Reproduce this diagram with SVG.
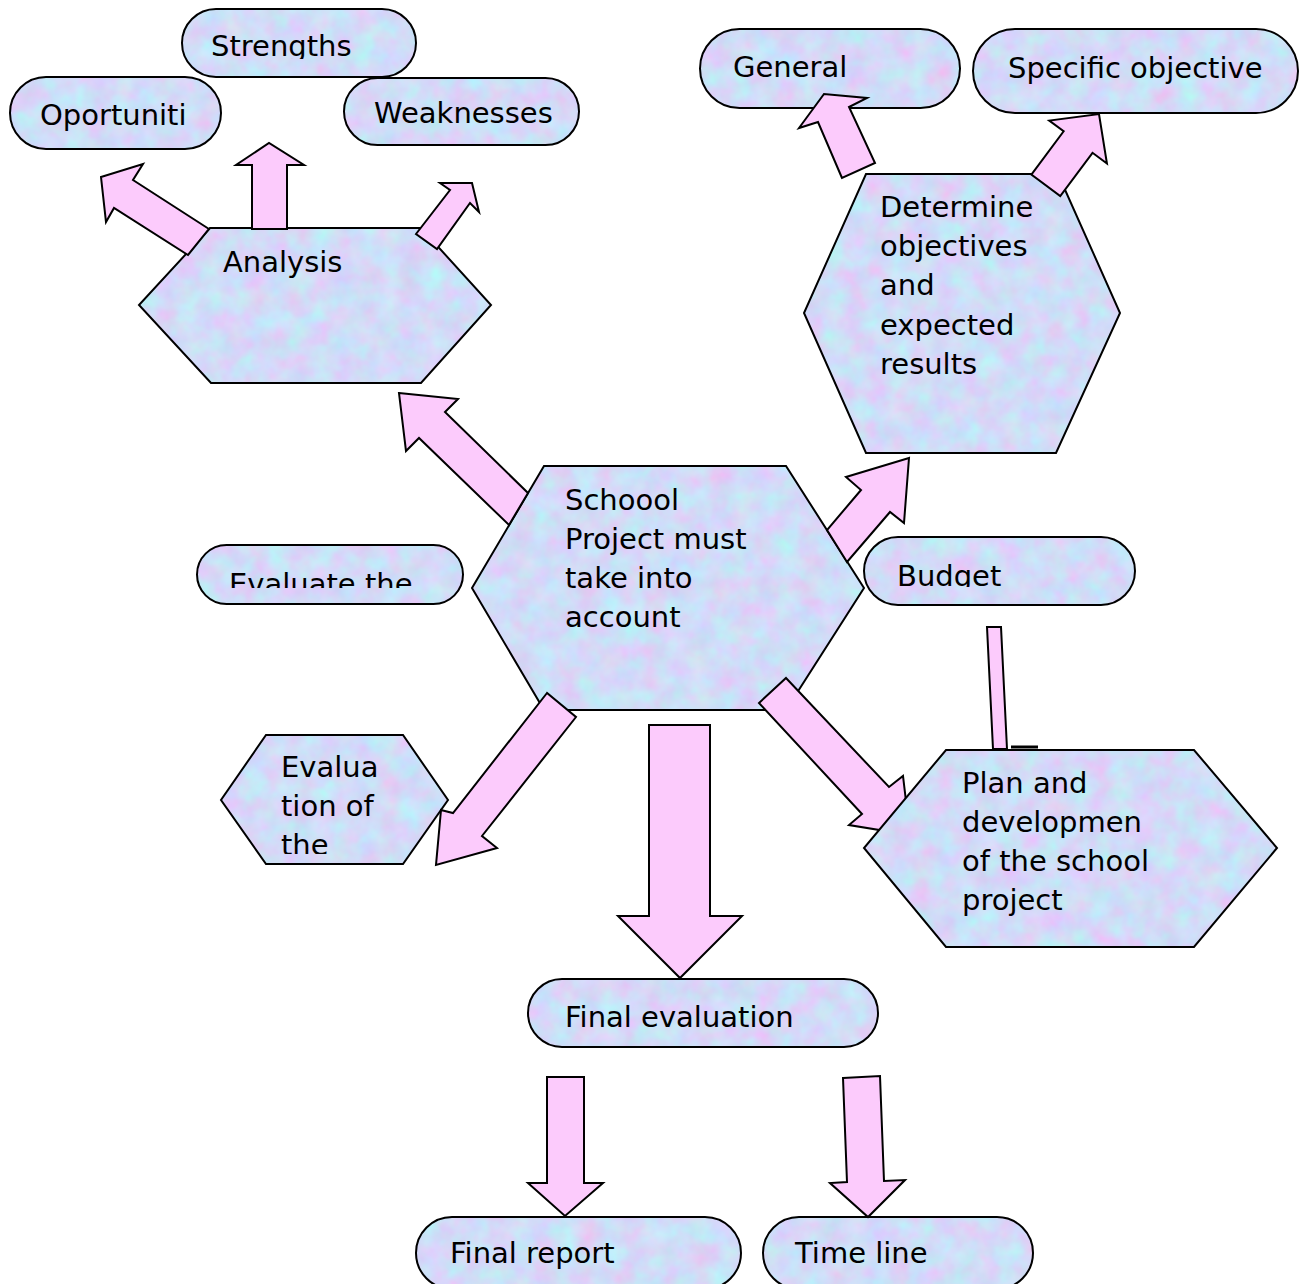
<svg xmlns="http://www.w3.org/2000/svg" width="1300" height="1284" viewBox="0 0 1300 1284">
<defs>
<filter id="noise" x="0" y="0" width="1300" height="1284" filterUnits="userSpaceOnUse" color-interpolation-filters="sRGB">
<feTurbulence type="fractalNoise" baseFrequency="0.045" numOctaves="3" seed="7" result="n"/>
<feColorMatrix in="n" type="matrix" values="0.22 -0.12 0 0 0.77  -0.12 0.2 0 0 0.82  0 0 0.08 0 0.93  0 0 0 0 1"/>
</filter>
<pattern id="tex" patternUnits="userSpaceOnUse" x="0" y="0" width="1300" height="1284">
<rect width="1300" height="1284" filter="url(#noise)"/>
</pattern>
<clipPath id="clip-str"><rect x="175" y="0" width="250" height="59"/></clipPath>
<clipPath id="clip-evt"><rect x="190" y="540" width="280" height="48"/></clipPath>
<clipPath id="clip-bud"><rect x="860" y="530" width="280" height="57"/></clipPath>
<clipPath id="clip-evl"><rect x="215" y="730" width="240" height="124"/></clipPath>
<style>
.node{fill:url(#tex);stroke:#000;stroke-width:2;}
.arr{fill:#fccbfc;stroke:#000;stroke-width:2;stroke-linejoin:miter;}
.t{font-family:"DejaVu Sans",sans-serif;font-size:29px;fill:#000;}
</style>
</defs>
<rect width="1300" height="1284" fill="#fff"/>

<g id="node-strengths"><rect class="node" x="182" y="9" width="234" height="68" rx="34"/><text class="t" x="211" y="56" clip-path="url(#clip-str)">Strengths</text></g>
<g id="node-oportuniti"><rect class="node" x="10" y="77" width="211" height="72" rx="36"/><text class="t" x="40" y="125">Oportuniti</text></g>
<g id="node-weaknesses"><rect class="node" x="344" y="78" width="235" height="67" rx="33.5"/><text class="t" x="374" y="123">Weaknesses</text></g>
<g id="node-analysis"><polygon class="node" points="210,228 421,228 491,305 421,383 211,383 139,305"/><text class="t" x="223" y="272">Analysis</text></g>
<g id="node-general"><rect class="node" x="700" y="29" width="260" height="79" rx="39.5"/><text class="t" x="733" y="77">General</text></g>
<g id="node-specific"><rect class="node" x="973" y="29" width="325" height="84" rx="42"/><text class="t" x="1008" y="78">Specific objective</text></g>
<g id="node-determine"><polygon class="node" points="866,174 1058,174 1120,313 1056,453 866,453 804,313"/>
<text class="t" x="880" y="217">Determine</text><text class="t" x="880" y="256">objectives</text><text class="t" x="880" y="295">and</text><text class="t" x="880" y="335">expected</text><text class="t" x="880" y="374">results</text></g>
<g id="node-center"><polygon class="node" points="544,466 786,466 864,588 786,710 544,710 472,588"/>
<text class="t" x="565" y="510">Schoool</text><text class="t" x="565" y="549">Project must</text><text class="t" x="565" y="588">take into</text><text class="t" x="565" y="627">account</text></g>
<g id="node-evaluate"><rect class="node" x="197" y="545" width="266" height="59" rx="29.5"/><text class="t" x="229" y="594" clip-path="url(#clip-evt)">Evaluate the</text></g>
<g id="node-budget"><rect class="node" x="864" y="537" width="271" height="68" rx="34"/><text class="t" x="897" y="586" clip-path="url(#clip-bud)">Budget</text></g>
<g id="node-evaluation"><polygon class="node" points="266,735 403,735 448,800 403,864 266,864 221,800"/>
<g clip-path="url(#clip-evl)"><text class="t" x="281" y="777">Evalua</text><text class="t" x="281" y="816">tion of</text><text class="t" x="281" y="855">the</text></g></g>
<g id="node-final-eval"><rect class="node" x="528" y="979" width="350" height="68" rx="34"/><text class="t" x="565" y="1027">Final evaluation</text></g>
<g id="node-final-report"><rect class="node" x="416" y="1217" width="325" height="72" rx="36"/><text class="t" x="450" y="1263">Final report</text></g>
<g id="node-timeline"><rect class="node" x="763" y="1217" width="270" height="72" rx="36"/><text class="t" x="795" y="1263">Time line</text></g>

<g id="connectors">
<polygon class="arr" points="252,229 252,165 236,165 269,143 304,165 287,165 287,229"/>
<polygon class="arr" points="209,229 133,180 143,164 101,177 106,222 114,208 188,255"/>
<polygon class="arr" points="416,234 450,190 440,183 472,183 479,212 470,203 437,249"/>
<polygon class="arr" points="842,178 818,122 799,128 824,94 867,98 849,107 875,163"/>
<polygon class="arr" points="-18,89 -18,35 -36,35 0,0 36,35 18,35 18,89" transform="translate(1099,114) rotate(36.7)"/>
<polygon class="arr" points="399,393 458,399 445,412 528,493 509,525 419,438 406,451"/>
<polygon class="arr" points="909,458 846,477 861,490 827,530 847,562 890,512 904,523"/>
<polygon class="arr" points="547,693 453,813 441,810 436,865 497,848 482,836 576,717"/>
<polygon class="arr" points="786,678 889,787 903,776 910,835 849,825 862,814 759,703"/>
<polygon class="arr" points="987,627 1001,627 1007,749 993,749"/>
<line x1="1011" y1="747" x2="1038" y2="747" stroke="#000" stroke-width="3"/>
<polygon class="arr" points="649,725 710,725 710,916 742,916 680,978 618,916 649,916"/>
<polygon class="arr" points="547,1077 584,1077 584,1183 603,1183 565,1216 528,1183 547,1183"/>
<polygon class="arr" points="843,1078 880,1076 884,1181 905,1180 868,1217 830,1183 847,1182"/>
</g>

<g id="node-plan"><polygon class="node" points="946,750 1194,750 1277,848 1194,947 946,947 864,848"/>
<text class="t" x="962" y="793">Plan and</text><text class="t" x="962" y="832">developmen</text><text class="t" x="962" y="871">of the school</text><text class="t" x="962" y="910">project</text></g>
</svg>
